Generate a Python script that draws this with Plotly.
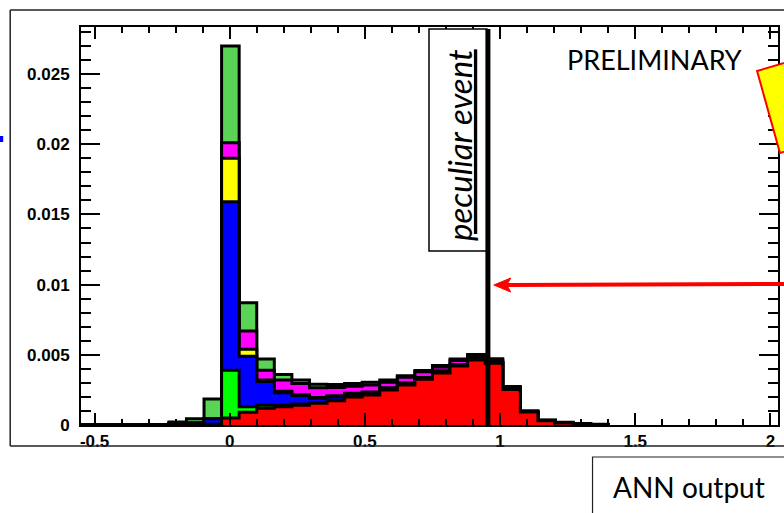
import plotly.graph_objects as go

# ---------------- data ----------------
bin_low = -0.55
bin_width = 0.065
# per-bin contributions of each stacked component (bins start at -0.55)
red = [0, 0, 0, 0, 0, 0.00003, 0.00003, 0.00002, 0.0005, 0.0009,
       0.0012, 0.0013, 0.0014, 0.00155, 0.00173, 0.0020, 0.00214, 0.0025, 0.00285, 0.00325,
       0.0037, 0.0042, 0.00463, 0.0044, 0.00252, 0.00092, 0.0003, 0.00015, 0.00007, 0.00003]
bright_green = [0, 0, 0, 0, 0, 0, 0, 0.00003, 0.0034, 0.0004,
                0.0002, 0.0001, 0.0001, 0.00005, 0.00005, 0.00003, 0.00003, 0.00002, 0.00002, 0.00002,
                0.00002, 0.00001, 0.00001, 0.00001, 0, 0, 0, 0, 0, 0]
blue = [0, 0, 0, 0, 0, 0.00006, 0.00012, 0.0004, 0.0120, 0.0036,
        0.0017, 0.0009, 0.0006, 0.0003, 0.00025, 0.0002, 0.00015, 0.0001, 0.0001, 0.0001,
        0.0001, 0.00008, 0.00008, 0.00005, 0.00003, 0, 0, 0, 0, 0]
yellow = [0, 0, 0, 0, 0, 0, 0, 0, 0.0031, 0.0005,
          0.0001, 0.0001, 0.00005, 0.00005, 0.00005, 0.00003, 0.00003, 0.00003, 0.00003, 0.00002,
          0.00002, 0.00001, 0.00001, 0.00001, 0, 0, 0, 0, 0, 0]
magenta = [0, 0, 0, 0, 0, 0, 0, 0, 0.0011, 0.0013,
           0.0007, 0.0008, 0.0008, 0.0007, 0.0006, 0.0005, 0.0005, 0.0004, 0.0004, 0.0004,
           0.0003, 0.0003, 0.0002, 0.00015, 0.0001, 0.00005, 0.00003, 0.00002, 0.00001, 0]
medium_green = [0, 0, 0, 0, 0.00003, 0.00013, 0.0003, 0.0014, 0.0069, 0.0020,
                0.0008, 0.0004, 0.00025, 0.00025, 0.0002, 0.0002, 0.0002, 0.00015, 0.0001, 0.0001,
                0.0001, 0.0001, 0.0001, 0.0001, 0.0001, 0.00005, 0.00003, 0.00003, 0.00003, 0.00002]

x_tickvals = [-0.5, 0, 0.5, 1, 1.5, 2]
x_ticktext = ["-0.5", "0", "0.5", "1", "1.5", "2"]
y_tickvals = [0, 0.005, 0.01, 0.015, 0.02, 0.025]
y_ticktext = ["0", "0.005", "0.01", "0.015", "0.02", "0.025"]
event_x = 0.955

# ---------------- figure ----------------
W, H = 784, 513
L, R, T, B = 81, 4, 27, 88
PW, PH = W - L - R, H - T - B


def px(x):
    return (x - L) / PW


def py(y):
    return (T + PH - y) / PH


layers = [("medium green", medium_green, "#59d454"),
          ("magenta", magenta, "#ff00ff"),
          ("yellow", yellow, "#ffff00"),
          ("blue", blue, "#0000ff"),
          ("bright green", bright_green, "#00ff00"),
          ("red", red, "#ff0000")]
order_bottom_up = [red, bright_green, blue, yellow, magenta, medium_green]
n = len(red)
edges = [bin_low + bin_width * i for i in range(n + 1)]

# cumulative stacks
cums = []
running = [0.0] * n
for comp in order_bottom_up:
    running = [a + b for a, b in zip(running, comp)]
    cums.append(list(running))
cums_top_down = cums[::-1]

fig = go.Figure()
for (name, _, col), cum in zip(layers, cums_top_down):
    xs = [edges[0]] + edges + [edges[-1]]
    ys = [0] + cum + [cum[-1], 0]
    fig.add_trace(go.Scatter(x=xs, y=ys, mode="lines", line_shape="hv",
                             line=dict(color="black", width=3),
                             fill="tozeroy", fillcolor=col, name=name,
                             showlegend=False, hoverinfo="skip"))

tickfont = dict(family="Liberation Sans", size=17, color="black", weight="bold")
fig.update_xaxes(range=[-0.55, 2.028], tickvals=x_tickvals, ticktext=x_ticktext,
                 ticks="inside", ticklen=12, tickwidth=2, tickcolor="black",
                 minor=dict(ticks="inside", dtick=0.1, tick0=0, ticklen=6, tickwidth=1.5, tickcolor="black"),
                 showline=True, linewidth=2, linecolor="black", mirror="allticks",
                 showgrid=False, zeroline=False, tickfont=tickfont, ticklabelstandoff=0)
fig.update_yaxes(range=[0, 0.02835], tickvals=y_tickvals, ticktext=y_ticktext,
                 ticks="inside", ticklen=19, tickwidth=2, tickcolor="black",
                 minor=dict(ticks="inside", dtick=0.001, tick0=0, ticklen=10, tickwidth=1.5, tickcolor="black"),
                 showline=True, linewidth=2, linecolor="black", mirror="allticks",
                 showgrid=False, zeroline=False, tickfont=tickfont, ticklabelstandoff=6)

shapes = []
# slide frame
shapes.append(dict(type="line", xref="paper", yref="paper", x0=px(10), x1=px(800), y0=py(10), y1=py(10),
                   line=dict(color="#222", width=1.5)))
shapes.append(dict(type="line", xref="paper", yref="paper", x0=px(10), x1=px(10), y0=py(10), y1=py(446),
                   line=dict(color="#222", width=1.5)))
shapes.append(dict(type="line", xref="paper", yref="paper", x0=px(10), x1=px(800), y0=py(446), y1=py(446),
                   line=dict(color="#222", width=1.5)))
# small blue mark at far left
shapes.append(dict(type="rect", xref="paper", yref="paper", x0=px(-2), x1=px(3), y0=py(136), y1=py(142),
                   fillcolor="#0000ff", line=dict(width=0)))
# peculiar event label box
shapes.append(dict(type="rect", xref="paper", yref="paper", x0=px(430), x1=px(488), y0=py(29), y1=py(251),
                   fillcolor="white", line=dict(color="black", width=1.5), layer="above"))
# event line
shapes.append(dict(type="line", xref="x", yref="paper", x0=event_x, x1=event_x, y0=0, y1=py(29),
                   line=dict(color="black", width=5), layer="above"))
# yellow tilted box (top right)
shapes.append(dict(type="path", xref="paper", yref="paper",
                   path="M {} {} L {} {} L {} {} L {} {} Z".format(px(759), py(71), px(830), py(50),
                                                                  px(853), py(132), px(782), py(153)),
                   fillcolor="#ffff00", line=dict(color="#ff0000", width=2), layer="above"))
# red arrow
shapes.append(dict(type="line", xref="paper", yref="paper", x0=px(800), x1=px(508), y0=py(284), y1=py(285),
                   line=dict(color="#ff0000", width=4), layer="above"))
shapes.append(dict(type="path", xref="paper", yref="paper",
                   path="M {} {} L {} {} L {} {} L {} {} Z".format(px(495), py(285), px(512), py(278),
                                                                  px(508), py(285), px(512), py(292)),
                   fillcolor="#ff0000", line=dict(color="#ff0000", width=1), layer="above"))
# ANN output box
shapes.append(dict(type="rect", xref="paper", yref="paper", x0=px(594), x1=px(800), y0=py(457), y1=py(530),
                   fillcolor="white", line=dict(color="#222", width=1.2), layer="above"))
fig.update_layout(shapes=shapes)

annotations = [
    dict(text="<i><u>peculiar event</u></i>", xref="paper", yref="paper", x=px(460), y=py(145),
         textangle=-90, showarrow=False, font=dict(family="Lato", size=33, color="black"),
         xanchor="center", yanchor="middle"),
    dict(text="PRELIMINARY", xref="paper", yref="paper", x=px(656), y=py(59), showarrow=False,
         font=dict(family="Lato", size=27, color="black"), xanchor="center", yanchor="middle"),
    dict(text="ANN output", xref="paper", yref="paper", x=px(691), y=py(487), showarrow=False,
         font=dict(family="Lato", size=28, color="black"), xanchor="center", yanchor="middle"),
]
fig.update_layout(annotations=annotations)

fig.update_layout(width=W, height=H, margin=dict(l=L, r=R, t=T, b=B, pad=0),
                  plot_bgcolor="white", paper_bgcolor="white", showlegend=False)
fig.write_html("out.html", config={"displayModeBar": False},
               post_script="document.body.style.margin='0';document.body.style.overflow='hidden';")
